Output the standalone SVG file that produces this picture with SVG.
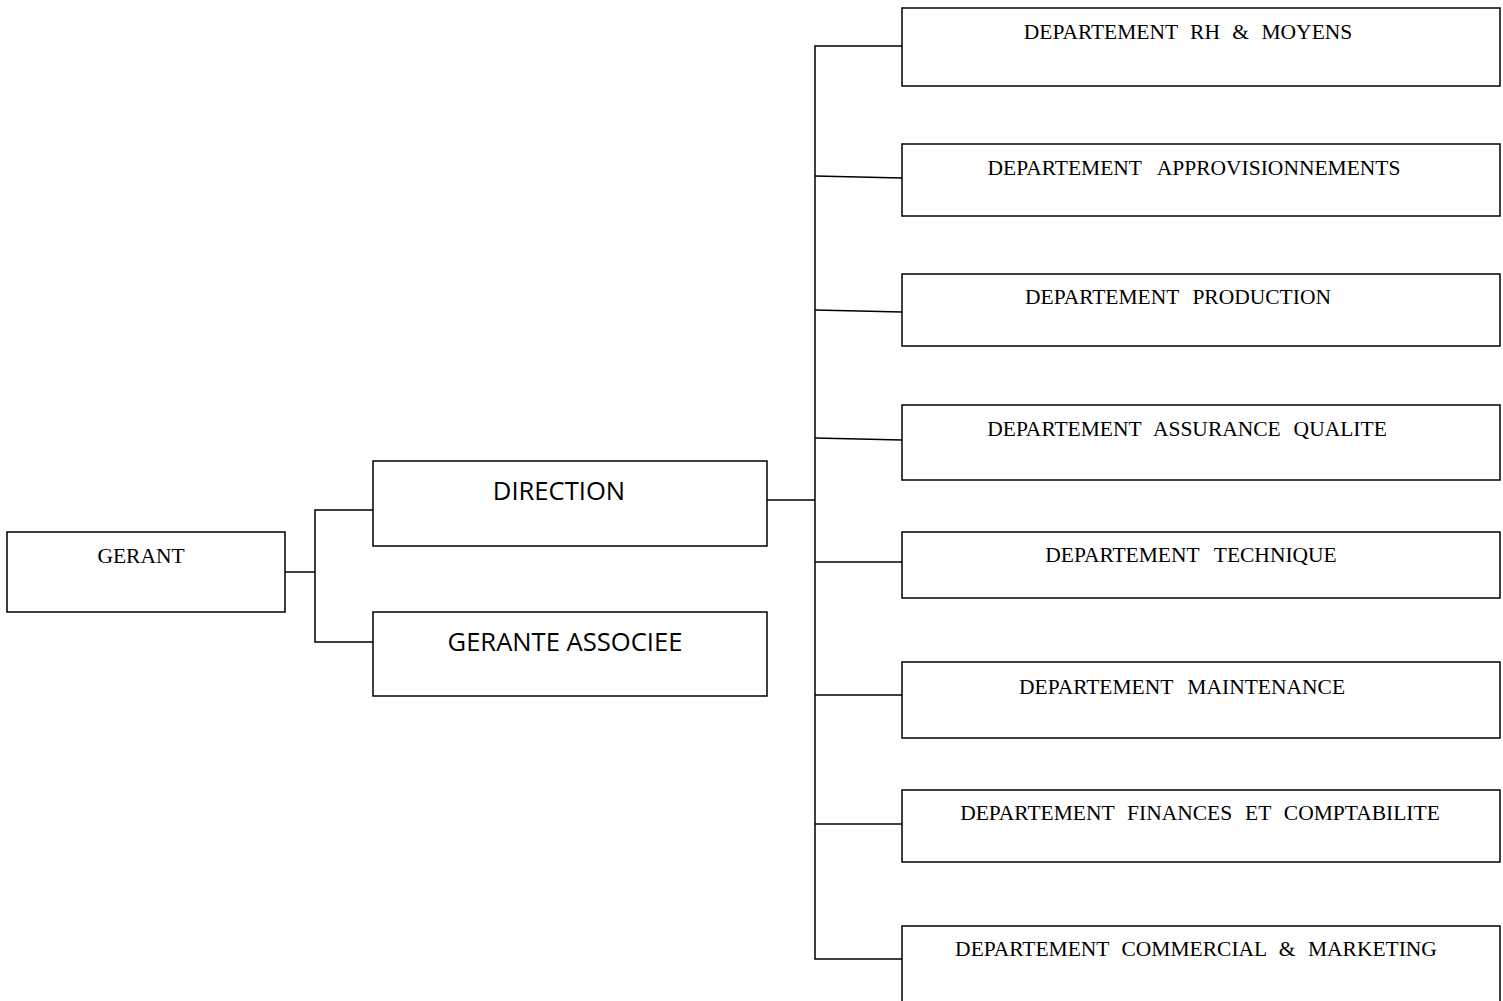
<svg xmlns="http://www.w3.org/2000/svg" width="1503" height="1001" viewBox="0 0 1503 1001">
<style>
.box{fill:#fff;stroke:#000;stroke-width:1.5}
.c{fill:none;stroke:#000;stroke-width:1.5}
.s{font-family:"Liberation Serif","Times New Roman",serif;font-size:21.5px;fill:#000;text-anchor:middle;word-spacing:7.5px}
.g{font-family:"Open Sans","Noto Sans",sans-serif;font-size:25.6px;fill:#000;text-anchor:middle}
</style>
<rect width="1503" height="1001" fill="#fff"/>
<g id="connectors">
<polyline class="c" points="285,572 315,572"/>
<polyline class="c" points="373,510 315,510 315,642 373,642"/>
<polyline class="c" points="767,500 815,500"/>
<polyline class="c" points="902,46 815,46 815,959 902,959"/>
<line class="c" x1="815" y1="176" x2="902" y2="178"/>
<line class="c" x1="815" y1="310" x2="902" y2="312"/>
<line class="c" x1="815" y1="438" x2="902" y2="440"/>
<line class="c" x1="815" y1="562" x2="902" y2="562"/>
<line class="c" x1="815" y1="695" x2="902" y2="695"/>
<line class="c" x1="815" y1="824" x2="902" y2="824"/>
</g>
<g id="gerant"><rect class="box" x="7" y="532" width="278" height="80"/><text class="s" x="141" y="563">GERANT</text></g>
<g id="direction"><rect class="box" x="373" y="461" width="394" height="85"/><text class="g" x="559" y="500">DIRECTION</text></g>
<g id="gerante"><rect class="box" x="373" y="612" width="394" height="84"/><text class="g" x="565" y="651">GERANTE ASSOCIEE</text></g>
<g id="rh"><rect class="box" x="902" y="8" width="598" height="78"/><text class="s" x="1188" y="39" style="word-spacing:7px">DEPARTEMENT RH &amp; MOYENS</text></g>
<g id="appro"><rect class="box" x="902" y="144" width="598" height="72"/><text class="s" x="1194" y="175" style="word-spacing:11px">DEPARTEMENT APPROVISIONNEMENTS</text></g>
<g id="production"><rect class="box" x="902" y="274" width="598" height="72"/><text class="s" x="1178" y="304" style="word-spacing:8px">DEPARTEMENT PRODUCTION</text></g>
<g id="qualite"><rect class="box" x="902" y="405" width="598" height="75"/><text class="s" x="1187" y="436">DEPARTEMENT ASSURANCE QUALITE</text></g>
<g id="technique"><rect class="box" x="902" y="532" width="598" height="66"/><text class="s" x="1191" y="562" style="word-spacing:9.5px">DEPARTEMENT TECHNIQUE</text></g>
<g id="maintenance"><rect class="box" x="902" y="662" width="598" height="76"/><text class="s" x="1182" y="694" style="word-spacing:9px">DEPARTEMENT MAINTENANCE</text></g>
<g id="finances"><rect class="box" x="902" y="790" width="598" height="72"/><text class="s" x="1200" y="820">DEPARTEMENT FINANCES ET COMPTABILITE</text></g>
<g id="commercial"><rect class="box" x="902" y="926" width="598" height="90"/><text class="s" x="1196" y="956" style="word-spacing:7px">DEPARTEMENT COMMERCIAL &amp; MARKETING</text></g>
</svg>
